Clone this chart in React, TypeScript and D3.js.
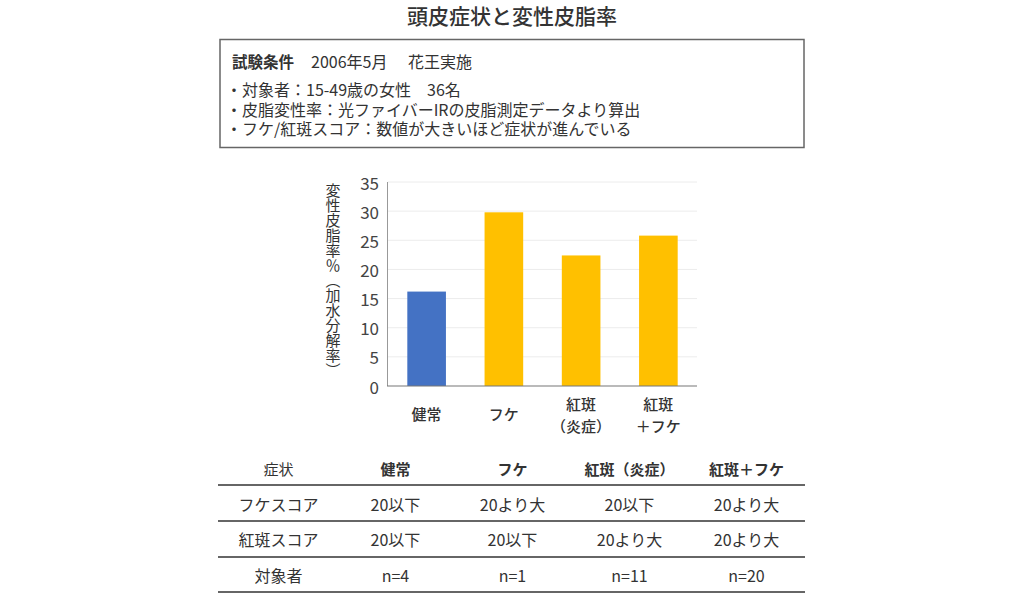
import * as d3 from "d3";

const title = "頭皮症状と変性皮脂率";
const condHead = ["試験条件", "2006年5月", "花王実施"];
const condLines = [
  "・対象者：15-49歳の女性　36名",
  "・皮脂変性率：光ファイバーIRの皮脂測定データより算出",
  "・フケ/紅斑スコア：数値が大きいほど症状が進んでいる",
];

const groups = ["健常", "フケ", "紅斑炎症", "紅斑フケ"];
const groupLabels = [["健常"], ["フケ"], ["紅斑", "（炎症）"], ["紅斑", "＋フケ"]];
const values = [16.2, 29.8, 22.4, 25.8];
const barColors = ["#4472C4", "#FFC000", "#FFC000", "#FFC000"];
const yTicks = [0, 5, 10, 15, 20, 25, 30, 35];
const yTitle = "変性皮脂率％（加水分解率）";

const tableHeader = ["症状", "健常", "フケ", "紅斑（炎症）", "紅斑＋フケ"];
const tableRows = [
  ["フケスコア", "20以下", "20より大", "20以下", "20より大"],
  ["紅斑スコア", "20以下", "20以下", "20より大", "20より大"],
  ["対象者", "n=4", "n=1", "n=11", "n=20"],
];

const W = 1024;
const H = 595;
const font = "'Noto Sans CJK JP', 'Noto Sans', sans-serif";
const textColor = "#333";

export default function App() {
  const x = d3.scaleBand<string>().domain(groups).range([388, 697]).paddingInner(0.5).paddingOuter(0.25);
  const y = d3.scaleLinear().domain([0, 35]).range([386, 182]);

  const cols = d3.scaleBand<number>().domain(d3.range(tableHeader.length)).range([220, 805]);
  const rowY = [468, 504, 539, 575];
  const lineY = [485, 521, 557, 592];

  return (
    <svg width={W} height={H} style={{ position: "absolute", left: 0, top: 0, fontFamily: font }}>
      <rect width={W} height={H} fill="#fff" />
      <text x={512} y={15} textAnchor="middle" dominantBaseline="central" fontSize={21} fontWeight={500} fill={textColor}>
        {title}
      </text>

      {/* 試験条件 box */}
      <rect x={220} y={39.5} width={584} height={108} fill="none" stroke="#666" strokeWidth={1.5} />
      <text x={232} y={61} dominantBaseline="central" fontSize={15.5} fontWeight={700} fill={textColor}>{condHead[0]}</text>
      <text x={311} y={61} dominantBaseline="central" fontSize={16} fill={textColor}>{condHead[1]}</text>
      <text x={408} y={61} dominantBaseline="central" fontSize={16} fill={textColor}>{condHead[2]}</text>
      {condLines.map((t, i) => (
        <text key={i} x={226} y={89 + i * 19.5} dominantBaseline="central" fontSize={16} fill={textColor}>{t}</text>
      ))}

      {/* chart */}
      {yTicks.map((t) => (
        <g key={t}>
          {t > 0 && <line x1={388} x2={697} y1={y(t)} y2={y(t)} stroke="#ececec" strokeWidth={1} />}
          <text x={379} y={y(t)} textAnchor="end" dominantBaseline="central" fontSize={17} fill="#444">{t}</text>
        </g>
      ))}
      <line x1={387.5} x2={387.5} y1={y(35)} y2={y(0)} stroke="#999" strokeWidth={1} />
      {groups.map((g, i) => (
        <rect key={g} x={x(g)} y={y(values[i])} width={x.bandwidth()} height={y(0) - y(values[i])} fill={barColors[i]} />
      ))}
      <line x1={387} x2={697} y1={y(0)} y2={y(0)} stroke="#777" strokeWidth={1.2} />
      {groups.map((g, i) => {
        const lines = groupLabels[i];
        const cx = (x(g) ?? 0) + x.bandwidth() / 2;
        return lines.map((l, j) => (
          <text key={g + j} x={cx} y={lines.length === 1 ? 413 : 403 + j * 22} textAnchor="middle" dominantBaseline="central" fontSize={15} fontWeight={500} fill={textColor}>
            {l}
          </text>
        ));
      })}
      <text x={333} y={183} fontSize={15} fill={textColor} style={{ writingMode: "vertical-rl" }} textAnchor="start">
        {yTitle}
      </text>

      {/* table */}
      {tableHeader.map((h, i) => (
        <text key={h} x={(cols(i) ?? 0) + cols.bandwidth() / 2} y={rowY[0]} textAnchor="middle" dominantBaseline="central" fontSize={15} fontWeight={i === 0 ? 400 : 700} fill={textColor}>
          {h}
        </text>
      ))}
      {tableRows.map((row, r) =>
        row.map((c, i) => (
          <text key={r + "-" + i} x={(cols(i) ?? 0) + cols.bandwidth() / 2} y={rowY[r + 1]} textAnchor="middle" dominantBaseline="central" fontSize={16} fill={textColor}>
            {c}
          </text>
        ))
      )}
      {lineY.map((ly) => (
        <line key={ly} x1={218} x2={805} y1={ly} y2={ly} stroke="#666" strokeWidth={1.8} />
      ))}
    </svg>
  );
}
